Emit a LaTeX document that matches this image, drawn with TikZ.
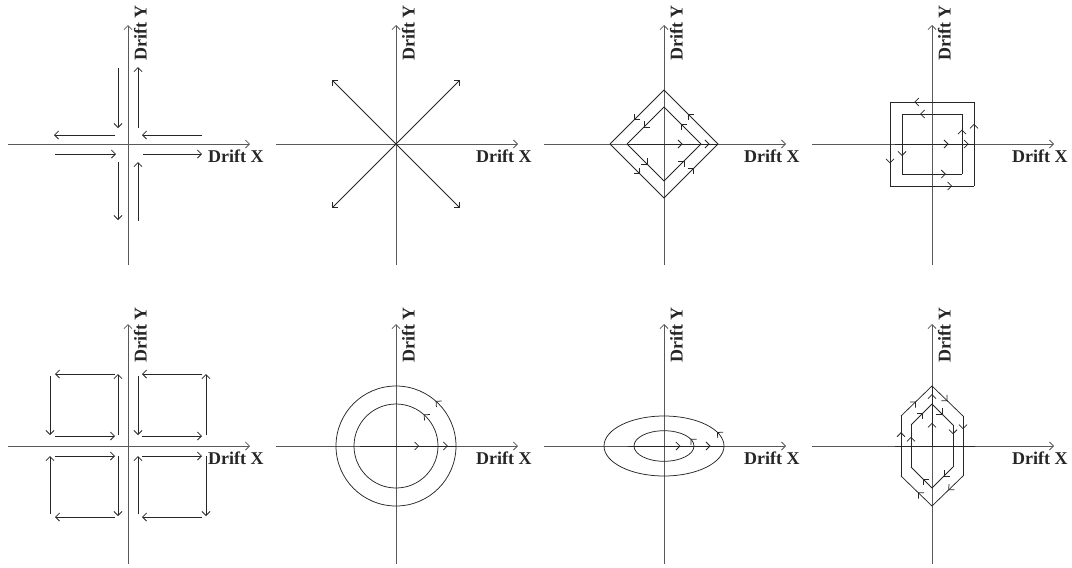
\documentclass[tikz,border=0pt]{standalone}
\usepackage{fontspec}
\setmainfont{Liberation Serif}
\usetikzlibrary{arrows.meta,decorations.markings}
\tikzset{
  tip/.tip={Straight Barb[length=4pt,width=8pt]},
  axisline/.style={draw=black!65, line width=0.8pt, -tip},
  pth/.style={draw=black!85, line width=0.75pt},
  arr/.style={pth, -tip},
  arrowat/.style={postaction={decorate}, decoration={markings, mark=at position #1 with {\arrow{tip}}}},
  lbl/.style={font=\bfseries\fontsize{18}{20}\selectfont, text=black!85, inner sep=0pt, anchor=base west}
}
\newcommand{\driftaxes}[3]{%
  \draw[axisline] (-120,0) -- (122,0);
  \draw[axisline] (0,#2) -- (0,#3);
  \node[lbl] (dx#1) at (80,-18.5) {Drift X};
  \node[lbl, rotate=90] (dy#1) at (18.5,83) {Drift Y};
}
\begin{document}
\begin{tikzpicture}[x=1pt,y=1pt]
\useasboundingbox (0,0) rectangle (1072,-568);

% ---------- Panel 1 ----------
\begin{scope}[shift={(128,-144)}]
  \driftaxes{a}{-121}{119}
  \draw[arr] (-10,76) -- (-10,16);
  \draw[arr] (10,16) -- (10,77);
  \draw[arr] (-13,9) -- (-74,9);
  \draw[arr] (74,9) -- (14,9);
  \draw[arr] (-73,-10) -- (-12,-10);
  \draw[arr] (15,-10) -- (74,-10);
  \draw[arr] (-10,-18) -- (-10,-76);
  \draw[arr] (10,-77) -- (10,-18);
\end{scope}

% ---------- Panel 2 ----------
\begin{scope}[shift={(396,-144)}]
  \driftaxes{b}{-121}{119}
  \draw[arr] (0,0) -- (64,64);
  \draw[arr] (0,0) -- (-64,64);
  \draw[arr] (0,0) -- (-64,-64);
  \draw[arr] (0,0) -- (64,-64);
\end{scope}

% ---------- Panel 3 ----------
\begin{scope}[shift={(664,-144)}]
  \driftaxes{c}{-121}{119}
  \draw[pth] (-37,0) -- (0,0);
  \draw[pth, arrowat=0.5] (0,0) -- (37,0);
  \draw[pth, arrowat=0.5] (37,0) -- (54,0);
  \foreach \r in {37,54} {
    \draw[pth, arrowat=0.55] (\r,0) -- (0,\r);
    \draw[pth, arrowat=0.55] (0,\r) -- (-\r,0);
    \draw[pth, arrowat=0.55] (-\r,0) -- (0,-\r);
    \draw[pth, arrowat=0.55] (0,-\r) -- (\r,0);
  }
\end{scope}

% ---------- Panel 4 ----------
\begin{scope}[shift={(932,-144)}]
  \driftaxes{d}{-121}{119}
  \draw[pth] (-37,0) -- (0,0);
  \draw[pth, arrowat=0.55] (0,0) -- (30,0);
  \draw[pth, arrowat=0.55] (30,0) -- (42,0);
  \draw[pth, arrowat=0.48] (30,0) -- (30,30);
  \draw[pth, arrowat=0.7] (30,30) -- (-30,30);
  \draw[pth, arrowat=0.7] (-30,30) -- (-30,-30);
  \draw[pth, arrowat=0.73] (-30,-30) -- (30,-30);
  \draw[pth] (30,-30) -- (30,0);
  \draw[pth, arrowat=0.48] (42,0) -- (42,42);
  \draw[pth, arrowat=0.71] (42,42) -- (-42,42);
  \draw[pth, arrowat=0.73] (-42,42) -- (-42,-42);
  \draw[pth, arrowat=0.74] (-42,-42) -- (42,-42);
  \draw[pth] (42,-42) -- (42,0);
\end{scope}

% ---------- Panel 5 ----------
\begin{scope}[shift={(128,-446)}]
  \driftaxes{e}{-118}{122}
  % upper left
  \draw[arr] (-13,72) -- (-73,72);
  \draw[arr] (-78,70) -- (-78,11);
  \draw[arr] (-73,10) -- (-13,10);
  \draw[arr] (-10,11) -- (-10,72);
  % upper right
  \draw[arr] (74,72) -- (14,72);
  \draw[arr] (10,70) -- (10,11);
  \draw[arr] (14,10) -- (74,10);
  \draw[arr] (78,11) -- (78,72);
  % lower left
  \draw[arr] (-73,-10) -- (-13,-10);
  \draw[arr] (-78,-68) -- (-78,-10);
  \draw[arr] (-13,-71) -- (-73,-71);
  \draw[arr] (-10,-10) -- (-10,-70);
  % lower right
  \draw[arr] (14,-10) -- (74,-10);
  \draw[arr] (10,-68) -- (10,-10);
  \draw[arr] (74,-71) -- (14,-71);
  \draw[arr] (78,-10) -- (78,-70);
\end{scope}

% ---------- Panel 6 ----------
\begin{scope}[shift={(396,-446)}]
  \driftaxes{f}{-118}{122}
  \draw[pth] (-36,0) -- (0,0);
  \draw[pth, arrowat=0.55] (0,0) -- (42,0);
  \draw[pth, arrowat=0.55] (42,0) -- (60,0);
  \draw[pth, arrowat=0.135] (42,0) arc[start angle=0, end angle=360, radius=42];
  \draw[pth, arrowat=0.135] (60,0) arc[start angle=0, end angle=360, radius=60];
\end{scope}

% ---------- Panel 7 ----------
\begin{scope}[shift={(664,-446)}]
  \driftaxes{g}{-118}{122}
  \draw[pth] (-36,0) -- (0,0);
  \draw[pth, arrowat=0.55] (0,0) -- (30,0);
  \draw[pth, arrowat=0.55] (30,0) -- (60,0);
  \draw[pth, arrowat=0.055] (30,0) arc[start angle=0, end angle=360, x radius=30, y radius=15.3];
  \draw[pth, arrowat=0.055] (60,0) arc[start angle=0, end angle=360, x radius=60, y radius=30];
\end{scope}

% ---------- Panel 8 ----------
\begin{scope}[shift={(932,-446)}]
  \driftaxes{h}{-118}{122}
  \draw[pth] (-37,0) -- (43,0);
  \draw[pth, arrowat=0.55] (0,0) -- (0,42);
  \draw[pth, arrowat=0.55] (0,42) -- (0,60);
  % inner hexagon
  \draw[pth, arrowat=0.5] (0,42) -- (21,21);
  \draw[pth, arrowat=0.22] (21,21) -- (21,-21);
  \draw[pth, arrowat=0.45] (21,-21) -- (0,-42);
  \draw[pth, arrowat=0.42] (0,-42) -- (-21,-21);
  \draw[pth, arrowat=0.72] (-21,-21) -- (-21,21);
  \draw[pth, arrowat=0.55] (-21,21) -- (0,42);
  % outer hexagon
  \draw[pth, arrowat=0.5] (0,60) -- (31,30);
  \draw[pth, arrowat=0.22] (31,30) -- (31,-30);
  \draw[pth, arrowat=0.47] (31,-30) -- (0,-60);
  \draw[pth, arrowat=0.45] (0,-60) -- (-31,-30);
  \draw[pth, arrowat=0.73] (-31,-30) -- (-31,30);
  \draw[pth, arrowat=0.48] (-31,30) -- (0,60);
\end{scope}
\end{tikzpicture}
\end{document}
